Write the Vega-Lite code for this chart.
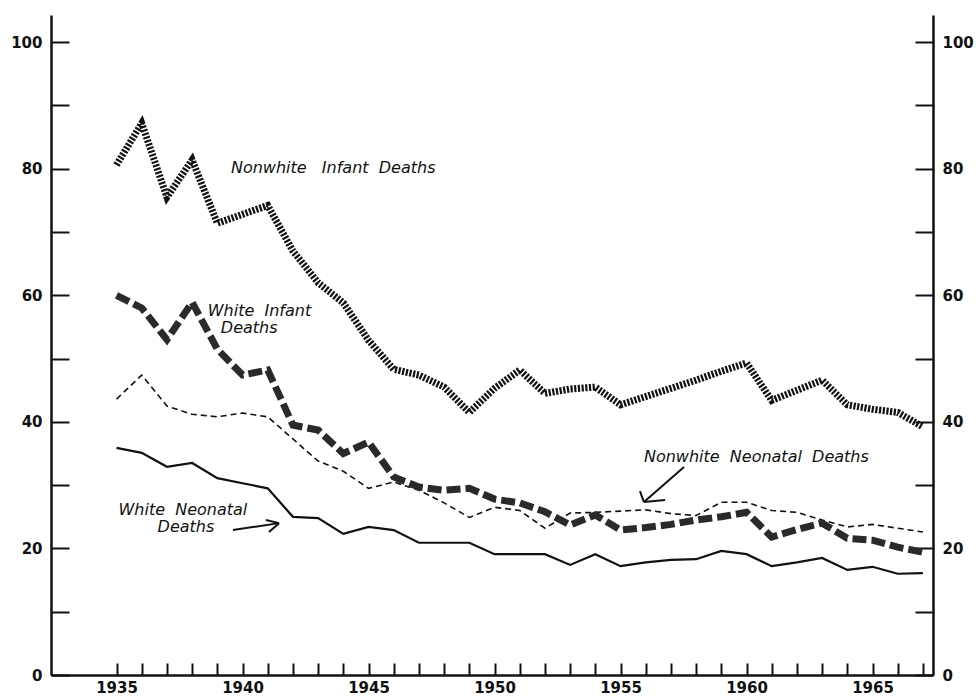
{
  "$schema": "https://vega.github.io/schema/vega-lite/v6.json",
  "width": 882,
  "height": 660,
  "autosize": "none",
  "padding": {"left": 51, "top": 15, "right": 43, "bottom": 21},
  "background": "white",
  "config": {"view": {"stroke": null}, "axis": {"grid": false}},
  "datasets": {
    "rates": [
      {"year": 1935, "series": "NWI", "value": 80.6}, {"year": 1936, "series": "NWI", "value": 87.2}, {"year": 1937, "series": "NWI", "value": 75.5}, {"year": 1938, "series": "NWI", "value": 81.4}, {"year": 1939, "series": "NWI", "value": 71.4}, {"year": 1940, "series": "NWI", "value": 72.8}, {"year": 1941, "series": "NWI", "value": 74.2}, {"year": 1942, "series": "NWI", "value": 67.0}, {"year": 1943, "series": "NWI", "value": 62.0}, {"year": 1944, "series": "NWI", "value": 58.8}, {"year": 1945, "series": "NWI", "value": 52.9}, {"year": 1946, "series": "NWI", "value": 48.3}, {"year": 1947, "series": "NWI", "value": 47.4}, {"year": 1948, "series": "NWI", "value": 45.5}, {"year": 1949, "series": "NWI", "value": 41.5}, {"year": 1950, "series": "NWI", "value": 45.3}, {"year": 1951, "series": "NWI", "value": 48.2}, {"year": 1952, "series": "NWI", "value": 44.5}, {"year": 1953, "series": "NWI", "value": 45.2}, {"year": 1954, "series": "NWI", "value": 45.5}, {"year": 1955, "series": "NWI", "value": 42.7}, {"year": 1956, "series": "NWI", "value": 44.0}, {"year": 1957, "series": "NWI", "value": 45.3}, {"year": 1958, "series": "NWI", "value": 46.6}, {"year": 1959, "series": "NWI", "value": 48.0}, {"year": 1960, "series": "NWI", "value": 49.3}, {"year": 1961, "series": "NWI", "value": 43.4}, {"year": 1962, "series": "NWI", "value": 45.0}, {"year": 1963, "series": "NWI", "value": 46.6}, {"year": 1964, "series": "NWI", "value": 42.7}, {"year": 1965, "series": "NWI", "value": 42.0}, {"year": 1966, "series": "NWI", "value": 41.5}, {"year": 1967, "series": "NWI", "value": 39.2},
      {"year": 1935, "series": "WI", "value": 60.0}, {"year": 1936, "series": "WI", "value": 58.0}, {"year": 1937, "series": "WI", "value": 53.0}, {"year": 1938, "series": "WI", "value": 58.9}, {"year": 1939, "series": "WI", "value": 51.5}, {"year": 1940, "series": "WI", "value": 47.4}, {"year": 1941, "series": "WI", "value": 48.2}, {"year": 1942, "series": "WI", "value": 39.5}, {"year": 1943, "series": "WI", "value": 38.7}, {"year": 1944, "series": "WI", "value": 35.0}, {"year": 1945, "series": "WI", "value": 36.8}, {"year": 1946, "series": "WI", "value": 31.3}, {"year": 1947, "series": "WI", "value": 29.7}, {"year": 1948, "series": "WI", "value": 29.2}, {"year": 1949, "series": "WI", "value": 29.5}, {"year": 1950, "series": "WI", "value": 27.8}, {"year": 1951, "series": "WI", "value": 27.2}, {"year": 1952, "series": "WI", "value": 25.8}, {"year": 1953, "series": "WI", "value": 23.7}, {"year": 1954, "series": "WI", "value": 25.3}, {"year": 1955, "series": "WI", "value": 22.9}, {"year": 1956, "series": "WI", "value": 23.3}, {"year": 1957, "series": "WI", "value": 23.8}, {"year": 1958, "series": "WI", "value": 24.5}, {"year": 1959, "series": "WI", "value": 25.0}, {"year": 1960, "series": "WI", "value": 25.7}, {"year": 1961, "series": "WI", "value": 21.8}, {"year": 1962, "series": "WI", "value": 23.0}, {"year": 1963, "series": "WI", "value": 24.0}, {"year": 1964, "series": "WI", "value": 21.6}, {"year": 1965, "series": "WI", "value": 21.3}, {"year": 1966, "series": "WI", "value": 20.2}, {"year": 1967, "series": "WI", "value": 19.4},
      {"year": 1935, "series": "NWN", "value": 43.6}, {"year": 1936, "series": "NWN", "value": 47.4}, {"year": 1937, "series": "NWN", "value": 42.5}, {"year": 1938, "series": "NWN", "value": 41.2}, {"year": 1939, "series": "NWN", "value": 40.8}, {"year": 1940, "series": "NWN", "value": 41.4}, {"year": 1941, "series": "NWN", "value": 40.8}, {"year": 1942, "series": "NWN", "value": 37.3}, {"year": 1943, "series": "NWN", "value": 33.8}, {"year": 1944, "series": "NWN", "value": 32.2}, {"year": 1945, "series": "NWN", "value": 29.5}, {"year": 1946, "series": "NWN", "value": 30.5}, {"year": 1947, "series": "NWN", "value": 29.2}, {"year": 1948, "series": "NWN", "value": 27.2}, {"year": 1949, "series": "NWN", "value": 24.9}, {"year": 1950, "series": "NWN", "value": 26.5}, {"year": 1951, "series": "NWN", "value": 26.0}, {"year": 1952, "series": "NWN", "value": 23.2}, {"year": 1953, "series": "NWN", "value": 25.6}, {"year": 1954, "series": "NWN", "value": 25.7}, {"year": 1955, "series": "NWN", "value": 25.9}, {"year": 1956, "series": "NWN", "value": 26.1}, {"year": 1957, "series": "NWN", "value": 25.5}, {"year": 1958, "series": "NWN", "value": 25.2}, {"year": 1959, "series": "NWN", "value": 27.3}, {"year": 1960, "series": "NWN", "value": 27.3}, {"year": 1961, "series": "NWN", "value": 26.0}, {"year": 1962, "series": "NWN", "value": 25.7}, {"year": 1963, "series": "NWN", "value": 24.5}, {"year": 1964, "series": "NWN", "value": 23.4}, {"year": 1965, "series": "NWN", "value": 23.8}, {"year": 1966, "series": "NWN", "value": 23.2}, {"year": 1967, "series": "NWN", "value": 22.6},
      {"year": 1935, "series": "WN", "value": 35.9}, {"year": 1936, "series": "WN", "value": 35.1}, {"year": 1937, "series": "WN", "value": 32.9}, {"year": 1938, "series": "WN", "value": 33.5}, {"year": 1939, "series": "WN", "value": 31.1}, {"year": 1940, "series": "WN", "value": 30.3}, {"year": 1941, "series": "WN", "value": 29.5}, {"year": 1942, "series": "WN", "value": 25.0}, {"year": 1943, "series": "WN", "value": 24.8}, {"year": 1944, "series": "WN", "value": 22.3}, {"year": 1945, "series": "WN", "value": 23.4}, {"year": 1946, "series": "WN", "value": 22.9}, {"year": 1947, "series": "WN", "value": 20.9}, {"year": 1948, "series": "WN", "value": 20.9}, {"year": 1949, "series": "WN", "value": 20.9}, {"year": 1950, "series": "WN", "value": 19.1}, {"year": 1951, "series": "WN", "value": 19.1}, {"year": 1952, "series": "WN", "value": 19.1}, {"year": 1953, "series": "WN", "value": 17.4}, {"year": 1954, "series": "WN", "value": 19.1}, {"year": 1955, "series": "WN", "value": 17.2}, {"year": 1956, "series": "WN", "value": 17.8}, {"year": 1957, "series": "WN", "value": 18.2}, {"year": 1958, "series": "WN", "value": 18.3}, {"year": 1959, "series": "WN", "value": 19.6}, {"year": 1960, "series": "WN", "value": 19.1}, {"year": 1961, "series": "WN", "value": 17.2}, {"year": 1962, "series": "WN", "value": 17.8}, {"year": 1963, "series": "WN", "value": 18.5}, {"year": 1964, "series": "WN", "value": 16.6}, {"year": 1965, "series": "WN", "value": 17.1}, {"year": 1966, "series": "WN", "value": 16.0}, {"year": 1967, "series": "WN", "value": 16.1}
    ],
    "labels": [
      {"year": 1939.54, "value": 80.1, "label": "Nonwhite\u00a0\u00a0\u00a0Infant\u00a0\u00a0Deaths"},
      {"year": 1938.62, "value": 57.5, "label": "White\u00a0\u00a0Infant"},
      {"year": 1939.14, "value": 54.8, "label": "Deaths"},
      {"year": 1955.93, "value": 34.4, "label": "Nonwhite\u00a0\u00a0Neonatal\u00a0\u00a0Deaths"},
      {"year": 1935.08, "value": 26.1, "label": "White\u00a0\u00a0Neonatal"},
      {"year": 1936.63, "value": 23.4, "label": "Deaths"}
    ],
    "arrows": [
      {"year": 1957.52, "value": 32.86, "year2": 1955.93, "value2": 27.33},
      {"year": 1955.77, "value": 29.07, "year2": 1955.93, "value2": 27.33},
      {"year": 1956.77, "value": 27.65, "year2": 1955.93, "value2": 27.33},
      {"year": 1939.62, "value": 22.9, "year2": 1941.45, "value2": 24.0},
      {"year": 1940.93, "value": 24.5, "year2": 1941.45, "value2": 24.0},
      {"year": 1941.05, "value": 22.6, "year2": 1941.45, "value2": 24.0}
    ]
  },
  "encoding": {
    "x": {
      "field": "year", "type": "quantitative",
      "scale": {"domain": [1932.4, 1967.4], "nice": false, "zero": false},
      "axis": {
        "title": null, "grid": false,
        "values": [1935,1936,1937,1938,1939,1940,1941,1942,1943,1944,1945,1946,1947,1948,1949,1950,1951,1952,1953,1954,1955,1956,1957,1958,1959,1960,1961,1962,1963,1964,1965,1966,1967],
        "labelExpr": "datum.value % 5 === 0 ? '' + datum.value : ''",
        "tickSize": -12, "tickWidth": 2, "tickColor": "#111",
        "domainWidth": 2.5, "domainColor": "#111",
        "labelPadding": 17, "labelFont": "DejaVu Sans", "labelFontWeight": "bold", "labelFontSize": 15, "labelColor": "#111",
        "labelOverlap": false, "labelFlush": false
      }
    }
  },
  "layer": [
    {
      "data": {"name": "rates"},
      "transform": [{"filter": "datum.series === 'WN'"}],
      "mark": {"type": "line", "color": "#111", "strokeWidth": 2.2},
      "encoding": {
        "y": {
          "field": "value", "type": "quantitative",
          "scale": {"domain": [0, 104.3], "nice": false},
          "axis": {
            "orient": "left", "title": null, "grid": false,
            "values": [0,10,20,30,40,50,60,70,80,90,100],
            "labelExpr": "datum.value % 20 === 0 ? datum.label : ''",
            "tickSize": -18, "tickWidth": 2, "tickColor": "#111",
            "domainWidth": 2.5, "domainColor": "#111",
            "labelPadding": 27, "labelFont": "DejaVu Sans", "labelFontWeight": "bold", "labelFontSize": 15, "labelColor": "#111",
            "labelOverlap": false, "labelFlush": false
          }
        }
      }
    },
    {
      "data": {"name": "rates"},
      "transform": [{"filter": "datum.series === 'NWN'"}],
      "mark": {"type": "line", "color": "#111", "strokeWidth": 1.6, "strokeDash": [6, 4]},
      "encoding": {
        "y": {
          "field": "value", "type": "quantitative",
          "scale": {"domain": [0, 104.3], "nice": false},
          "axis": {
            "orient": "right", "title": null, "grid": false,
            "values": [0,10,20,30,40,50,60,70,80,90,100],
            "labelExpr": "datum.value % 20 === 0 ? datum.label : ''",
            "tickSize": -18, "tickWidth": 2, "tickColor": "#111",
            "domainWidth": 2.5, "domainColor": "#111",
            "labelPadding": 27, "labelFont": "DejaVu Sans", "labelFontWeight": "bold", "labelFontSize": 15, "labelColor": "#111",
            "labelOverlap": false, "labelFlush": false
          }
        }
      }
    },
    {
      "data": {"name": "rates"},
      "transform": [{"filter": "datum.series === 'WI'"}],
      "mark": {"type": "line", "color": "#2a2a2a", "strokeWidth": 7, "strokeDash": [14, 5], "strokeCap": "butt"},
      "encoding": {
        "y": {"field": "value", "type": "quantitative", "scale": {"domain": [0, 104.3], "nice": false}, "axis": null}
      }
    },
    {
      "data": {"name": "rates"},
      "transform": [{"filter": "datum.series === 'NWI'"}],
      "mark": {"type": "line", "color": "#111", "strokeWidth": 7, "strokeDash": [2.2, 1.5], "strokeCap": "butt"},
      "encoding": {
        "y": {"field": "value", "type": "quantitative", "scale": {"domain": [0, 104.3], "nice": false}, "axis": null}
      }
    },
    {
      "data": {"name": "labels"},
      "mark": {"type": "text", "align": "left", "baseline": "middle", "font": "DejaVu Sans", "fontStyle": "italic", "fontSize": 16, "color": "#111"},
      "encoding": {
        "y": {"field": "value", "type": "quantitative", "scale": {"domain": [0, 104.3], "nice": false}, "axis": null},
        "text": {"field": "label", "type": "nominal"}
      }
    },
    {
      "data": {"name": "arrows"},
      "mark": {"type": "rule", "color": "#111", "strokeWidth": 2},
      "encoding": {
        "y": {"field": "value", "type": "quantitative", "scale": {"domain": [0, 104.3], "nice": false}, "axis": null},
        "x2": {"field": "year2"},
        "y2": {"field": "value2"}
      }
    }
  ],
  "resolve": {"scale": {"y": "independent"}, "axis": {"y": "independent"}}
}
